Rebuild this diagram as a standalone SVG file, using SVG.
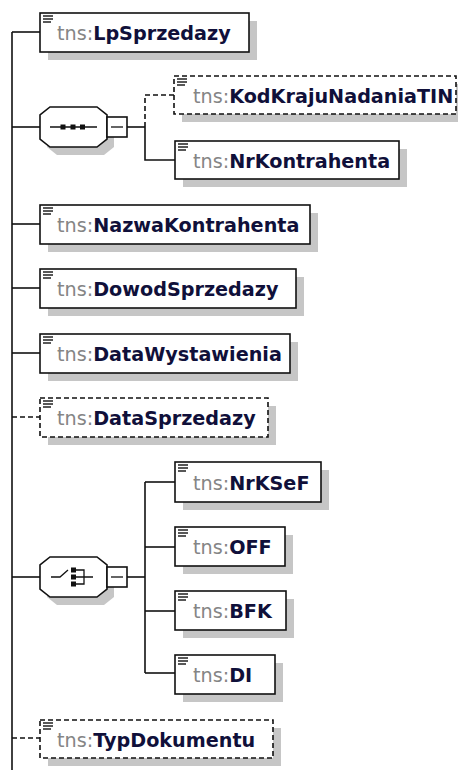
<svg xmlns="http://www.w3.org/2000/svg" xmlns:xlink="http://www.w3.org/1999/xlink" width="458" height="770" viewBox="0 0 458 770">
<style>
.bg{fill:#fff}
.shadow{fill:#c6c6c6}
.box{fill:#fff;stroke:#111;stroke-width:1.6}
.dash{stroke-dasharray:5 3}
.conn{fill:none;stroke:#111;stroke-width:1.6}
.lbl{font-family:"DejaVu Sans",Verdana,sans-serif;font-size:19.2px}
.pfx{fill:#858585}
.nm{fill:#10103a;font-weight:bold}
.ico{stroke:#111;stroke-width:1.4}
.sq{fill:#111}
</style>
<defs>
<g id="icon">
<line class="ico" x1="3" y1="3" x2="13" y2="3"/>
<line class="ico" x1="3" y1="6" x2="13" y2="6"/>
<line class="ico" x1="3" y1="9" x2="11" y2="9"/>
</g>
</defs>
<rect class="bg" x="0" y="0" width="458" height="770"/>

<g id="connectors">
<line class="conn" x1="12" y1="32" x2="12" y2="770"/>
<line class="conn" x1="12" y1="32" x2="40" y2="32"/>
<line class="conn" x1="12" y1="127" x2="40" y2="127"/>
<line class="conn" x1="127" y1="127" x2="145" y2="127"/>
<path class="conn dash" d="M145,127 L145,95 L174,95"/>
<path class="conn" d="M145,127 L145,160 L175,160"/>
<line class="conn" x1="12" y1="224" x2="40" y2="224"/>
<line class="conn" x1="12" y1="288" x2="40" y2="288"/>
<line class="conn" x1="12" y1="353" x2="40" y2="353"/>
<line class="conn dash" x1="12" y1="417" x2="40" y2="417"/>
<line class="conn" x1="12" y1="577" x2="40" y2="577"/>
<line class="conn" x1="127" y1="577" x2="145" y2="577"/>
<line class="conn" x1="145" y1="482" x2="145" y2="673"/>
<line class="conn" x1="145" y1="482" x2="175" y2="482"/>
<line class="conn" x1="145" y1="547" x2="175" y2="547"/>
<line class="conn" x1="145" y1="611" x2="175" y2="611"/>
<line class="conn" x1="145" y1="673" x2="175" y2="673"/>
<line class="conn dash" x1="12" y1="738" x2="40" y2="738"/>
</g>

<g id="LpSprzedazy">
<rect class="shadow" x="48" y="21" width="209" height="39"/>
<rect class="box" x="40" y="13" width="209" height="39"/>
<use xlink:href="#icon" x="40" y="13"/>
<text class="lbl" x="57" y="40"><tspan class="pfx">tns:</tspan><tspan class="nm">LpSprzedazy</tspan></text>
</g>

<g id="sequence">
<path class="shadow" d="M57,115 L104,115 L114,123 L114,147 L104,155 L57,155 L47,147 L47,123 Z"/>
<path class="box" d="M50,107 L97,107 L107,115 L107,139 L97,147 L50,147 L40,139 L40,115 Z"/>
<line class="conn" x1="50" y1="127" x2="97" y2="127" style="stroke-width:1.3"/>
<rect class="sq" x="60.5" y="124.5" width="5" height="5"/>
<rect class="sq" x="70.5" y="124.5" width="5" height="5"/>
<rect class="sq" x="80" y="124.5" width="5" height="5"/>
<rect class="box" x="107" y="117" width="20" height="20"/>
<line class="conn" x1="111" y1="127" x2="123" y2="127" style="stroke-width:1.3"/>
</g>

<g id="KodKrajuNadaniaTIN">
<rect class="shadow" x="182" y="84" width="282" height="38"/>
<rect class="box dash" x="174" y="76" width="282" height="38"/>
<use xlink:href="#icon" x="174" y="76"/>
<text class="lbl" x="193" y="103"><tspan class="pfx">tns:</tspan><tspan class="nm">KodKrajuNadaniaTIN</tspan></text>
</g>

<g id="NrKontrahenta">
<rect class="shadow" x="183" y="149" width="224" height="38"/>
<rect class="box" x="175" y="141" width="224" height="38"/>
<use xlink:href="#icon" x="175" y="141"/>
<text class="lbl" x="193" y="168"><tspan class="pfx">tns:</tspan><tspan class="nm">NrKontrahenta</tspan></text>
</g>

<g id="NazwaKontrahenta">
<rect class="shadow" x="48" y="213" width="270" height="39"/>
<rect class="box" x="40" y="205" width="270" height="39"/>
<use xlink:href="#icon" x="40" y="205"/>
<text class="lbl" x="57" y="232"><tspan class="pfx">tns:</tspan><tspan class="nm">NazwaKontrahenta</tspan></text>
</g>

<g id="DowodSprzedazy">
<rect class="shadow" x="48" y="277" width="256" height="39"/>
<rect class="box" x="40" y="269" width="256" height="39"/>
<use xlink:href="#icon" x="40" y="269"/>
<text class="lbl" x="57" y="296"><tspan class="pfx">tns:</tspan><tspan class="nm">DowodSprzedazy</tspan></text>
</g>

<g id="DataWystawienia">
<rect class="shadow" x="48" y="342" width="250" height="39"/>
<rect class="box" x="40" y="334" width="250" height="39"/>
<use xlink:href="#icon" x="40" y="334"/>
<text class="lbl" x="57" y="361"><tspan class="pfx">tns:</tspan><tspan class="nm">DataWystawienia</tspan></text>
</g>

<g id="DataSprzedazy">
<rect class="shadow" x="48" y="406" width="228" height="39"/>
<rect class="box dash" x="40" y="398" width="228" height="39"/>
<use xlink:href="#icon" x="40" y="398"/>
<text class="lbl" x="57" y="425"><tspan class="pfx">tns:</tspan><tspan class="nm">DataSprzedazy</tspan></text>
</g>

<g id="choice">
<path class="shadow" d="M57,565 L104,565 L114,573 L114,597 L104,605 L57,605 L47,597 L47,573 Z"/>
<path class="box" d="M50,557 L97,557 L107,565 L107,589 L97,597 L50,597 L40,589 L40,565 Z"/>
<path class="conn" d="M51,577 L60,577 L68,570" style="stroke-width:1.3"/>
<rect class="sq" x="71" y="567.5" width="5" height="5"/>
<rect class="sq" x="71" y="574.5" width="5" height="5"/>
<rect class="sq" x="71" y="581.5" width="5" height="5"/>
<path class="conn" d="M76,570 L84,570 L84,584 L76,584 M76,577 L84,577 M84,577 L93,577" style="stroke-width:1.3"/>
<rect class="box" x="107" y="567" width="20" height="20"/>
<line class="conn" x1="111" y1="577" x2="123" y2="577" style="stroke-width:1.3"/>
</g>

<g id="NrKSeF">
<rect class="shadow" x="183" y="470" width="146" height="40"/>
<rect class="box" x="175" y="462" width="146" height="40"/>
<use xlink:href="#icon" x="175" y="462"/>
<text class="lbl" x="193" y="490"><tspan class="pfx">tns:</tspan><tspan class="nm">NrKSeF</tspan></text>
</g>

<g id="OFF">
<rect class="shadow" x="183" y="535" width="110" height="39"/>
<rect class="box" x="175" y="527" width="110" height="39"/>
<use xlink:href="#icon" x="175" y="527"/>
<text class="lbl" x="193" y="554"><tspan class="pfx">tns:</tspan><tspan class="nm">OFF</tspan></text>
</g>

<g id="BFK">
<rect class="shadow" x="183" y="599" width="111" height="39"/>
<rect class="box" x="175" y="591" width="111" height="39"/>
<use xlink:href="#icon" x="175" y="591"/>
<text class="lbl" x="193" y="618"><tspan class="pfx">tns:</tspan><tspan class="nm">BFK</tspan></text>
</g>

<g id="DI">
<rect class="shadow" x="183" y="663" width="100" height="39"/>
<rect class="box" x="175" y="655" width="100" height="39"/>
<use xlink:href="#icon" x="175" y="655"/>
<text class="lbl" x="193" y="682"><tspan class="pfx">tns:</tspan><tspan class="nm">DI</tspan></text>
</g>

<g id="TypDokumentu">
<rect class="shadow" x="48" y="728" width="233" height="38"/>
<rect class="box dash" x="40" y="720" width="233" height="38"/>
<use xlink:href="#icon" x="40" y="720"/>
<text class="lbl" x="57" y="747"><tspan class="pfx">tns:</tspan><tspan class="nm">TypDokumentu</tspan></text>
</g>
</svg>
